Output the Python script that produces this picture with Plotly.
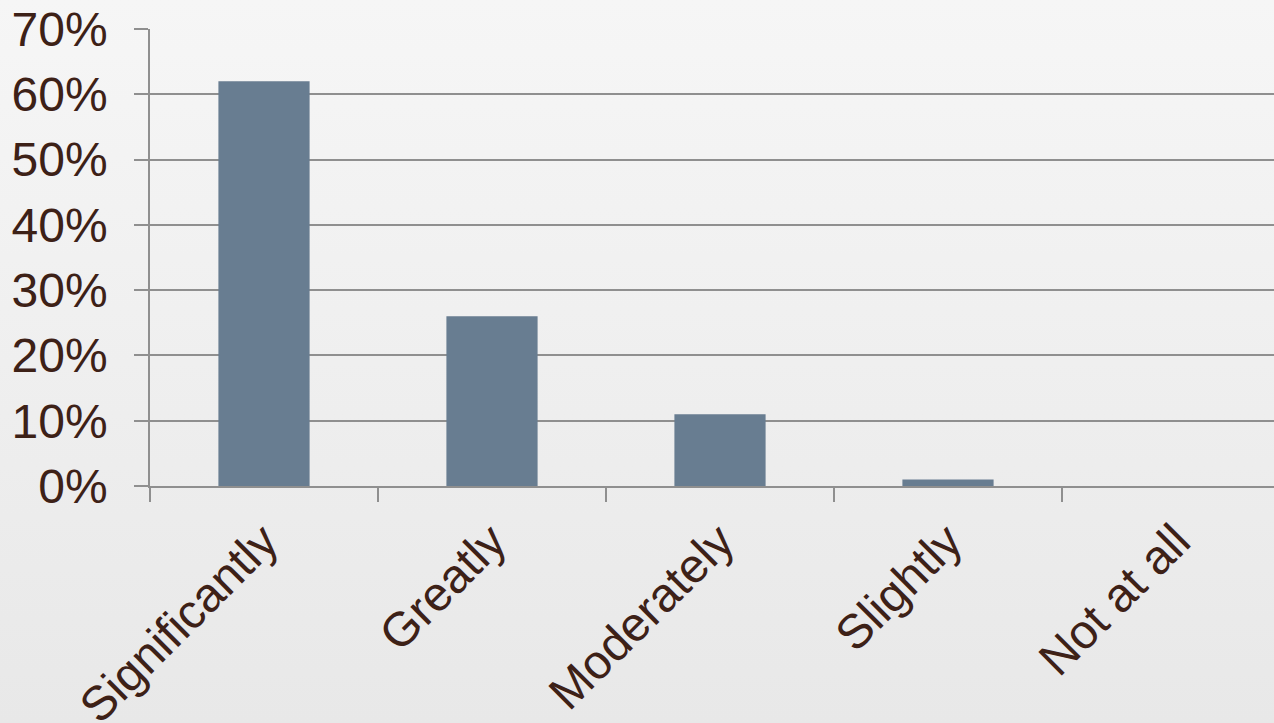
import base64
import plotly.graph_objects as go

categories = ["Significantly", "Greatly", "Moderately", "Slightly", "Not at all"]
values = [0.62, 0.26, 0.11, 0.01, 0.0]
y_ticks = [0, 0.1, 0.2, 0.3, 0.4, 0.5, 0.6, 0.7]
y_tick_labels = ["0%", "10%", "20%", "30%", "40%", "50%", "60%", "70%"]

W, H = 1274, 723
left_px, top_px, bottom_px = 150, 29, 486

svg = (
    '<svg xmlns="http://www.w3.org/2000/svg" width="100" height="100" preserveAspectRatio="none">'
    '<defs><linearGradient id="g" x1="0" y1="0" x2="0" y2="1">'
    '<stop offset="0" stop-color="#f6f6f6"/><stop offset="1" stop-color="#e8e8e8"/>'
    '</linearGradient></defs><rect width="100" height="100" fill="url(#g)"/></svg>'
)
bg_uri = "data:image/svg+xml;base64," + base64.b64encode(svg.encode()).decode()

text_color = "#3D2117"
grid_color = "#8f8f8f"
font = "Liberation Sans, Arial, sans-serif"

fig = go.Figure(
    go.Bar(
        x=categories,
        y=values,
        width=0.4,
        marker=dict(color="#687D91", line=dict(width=0)),
    )
)

# visible portion of the category axis: plot area ends at the page edge
cat_px = 228
x_right = -0.5 + (W - left_px) / cat_px

fig.update_layout(
    width=W,
    height=H,
    margin=dict(l=0, r=0, t=0, b=0),
    paper_bgcolor="#eeeeee",
    plot_bgcolor="rgba(0,0,0,0)",
    showlegend=False,
    images=[
        dict(
            source=bg_uri, xref="paper", yref="paper", x=0, y=1,
            sizex=1, sizey=1, sizing="stretch", layer="below",
            xanchor="left", yanchor="top",
        )
    ],
    font=dict(family=font, color=text_color, size=48),
)

fig.update_xaxes(
    type="category",
    domain=[left_px / W, 1],
    range=[-0.5, x_right],
    tickangle=-45,
    ticks="outside",
    tickson="boundaries",
    ticklen=14,
    tickwidth=1.5,
    tickcolor=grid_color,
    ticklabelstandoff=6,
    showgrid=False,
    showline=True,
    linecolor=grid_color,
    linewidth=1.5,
    tickfont=dict(size=48, color=text_color, family=font),
    automargin=False,
)

fig.update_yaxes(
    domain=[1 - bottom_px / H, 1 - top_px / H],
    range=[0, 0.7],
    tickmode="array",
    tickvals=y_ticks,
    ticktext=y_tick_labels,
    ticks="outside",
    ticklen=14,
    tickwidth=1.5,
    tickcolor=grid_color,
    ticklabelstandoff=17,
    showgrid=True,
    gridcolor=grid_color,
    gridwidth=1.5,
    zeroline=False,
    showline=True,
    linecolor=grid_color,
    linewidth=1.5,
    tickfont=dict(size=48, color=text_color, family=font),
    automargin=False,
)

fig.write_html("out.html")
